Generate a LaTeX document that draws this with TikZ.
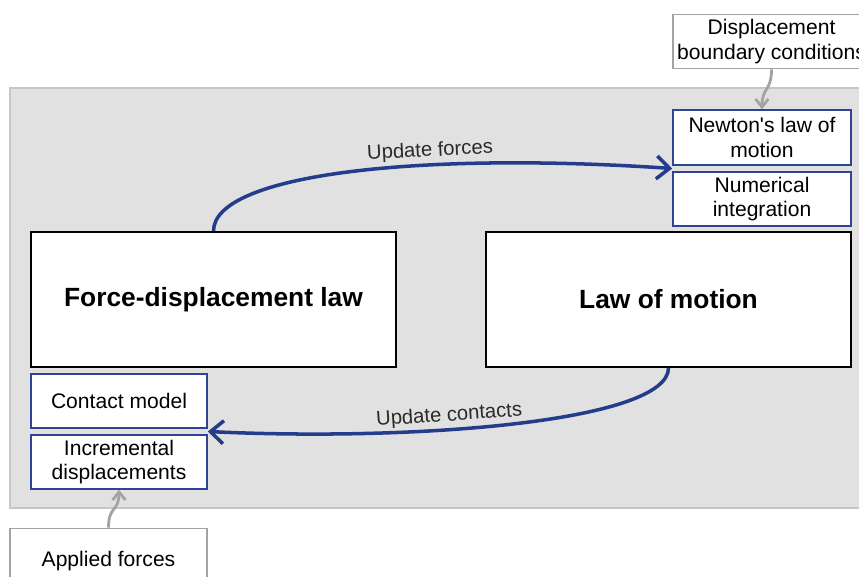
\documentclass[tikz,border=0pt]{standalone}
\usepackage{fontspec}
\setmainfont{Liberation Sans}[Ligatures=TeXOff]
\usepackage{tikz}
\usetikzlibrary{arrows.meta,positioning,calc}
\definecolor{navy}{HTML}{233C8C}
\definecolor{frame}{HTML}{2E4595}
\definecolor{panel}{HTML}{E1E1E1}
\definecolor{rim}{HTML}{C6C6C6}
\definecolor{feedgray}{HTML}{A3A3A3}
\definecolor{ink}{HTML}{2A2A2A}
\tikzset{box/.style={draw=frame,line width=0.9pt,fill=white,align=center,inner sep=2pt,
    font=\fontsize{12}{14}\selectfont,minimum width=3.52cm,minimum height=1.08cm},
  bigbox/.style={draw=black,line width=1pt,fill=white,align=center,
    font=\fontsize{15}{18}\selectfont\bfseries,minimum width=7.3cm,minimum height=2.7cm},
  inbox/.style={box,draw=feedgray},
  flow/.style={-{Straight Barb[length=2.6mm,width=4.6mm]},line width=2pt,draw=navy},
  feed/.style={-{Straight Barb[length=1.6mm,width=2.6mm]},line width=1.6pt,draw=feedgray},
  lbl/.style={font=\fontsize{11.5}{13}\selectfont,text=ink,sloped,above,inner sep=1.5pt}}

\begin{document}
\begin{tikzpicture}
\useasboundingbox (0,0) rectangle (17.18,-11.52);
\fill[panel,draw=rim,line width=1pt] (0.2,-1.76) rectangle (17.5,-10.16);
\node[inbox,minimum width=3.94cm] (disp) at (15.43,-0.83) {Displacement\\boundary conditions};
\node[box,minimum width=3.56cm,minimum height=1.1cm] (newton) at (15.24,-2.75) {Newton's law of\\motion};
\node[box,minimum width=3.56cm] (numint) at (15.24,-3.98) {Numerical\\integration};
\node[bigbox] (fdlaw) at (4.27,-5.99) {Force-displacement law};
\node[bigbox] (motion) at (13.37,-5.99) {Law of motion};
\node[box] (contact) at (2.38,-8.02) {Contact model};
\node[box] (incr) at (2.38,-9.24) {Incremental\\displacements};
\node[inbox,minimum width=3.94cm,minimum height=1.3cm] (applied) at (2.17,-11.22) {Applied forces};
\coordinate (fin) at ($(newton.south west)!0.5!(numint.north west)$);
\coordinate (cin) at ($(contact.south east)!0.5!(incr.north east)$);
% cycle
\draw[flow] (fdlaw.north) .. controls +(0,1.14) and +(-5.06,0.34) .. node[lbl,pos=0.65] {Update forces} (fin);
\draw[flow] (motion.south) .. controls +(0,-1.06) and +(4.26,-0.2) .. node[lbl,pos=0.62] {Update contacts} (cin);
% external inputs
\draw[feed] (disp.south) .. controls +(0,-0.45) and +(0,0.45) .. (newton.north);
\draw[feed] (applied.north) .. controls +(0,0.45) and +(0,-0.45) .. (incr.south);
\end{tikzpicture}
\end{document}
